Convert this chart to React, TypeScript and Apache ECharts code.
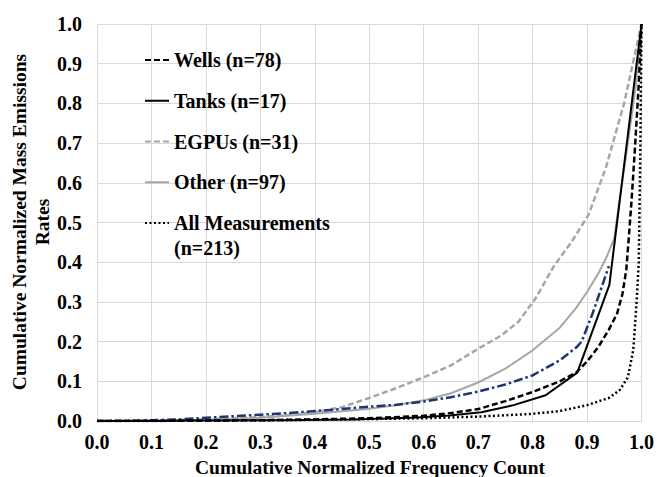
import React, { useEffect, useRef } from "react";
import * as echarts from "echarts";

const FONT = "'Liberation Serif', 'Times New Roman', serif";

const xTickLabels = ["0.0", "0.1", "0.2", "0.3", "0.4", "0.5", "0.6", "0.7", "0.8", "0.9", "1.0"];
const yTickLabels = ["0.0", "0.1", "0.2", "0.3", "0.4", "0.5", "0.6", "0.7", "0.8", "0.9", "1.0"];

const wellsX = [0, 0.1, 0.2, 0.3, 0.4, 0.5, 0.6, 0.65, 0.7, 0.75, 0.8, 0.85, 0.88, 0.9, 0.92, 0.94, 0.955, 0.965, 0.972, 0.976, 0.982, 0.989, 0.995, 1.0];
const wellsY = [0, 0, 0.001, 0.002, 0.004, 0.007, 0.013, 0.02, 0.03, 0.05, 0.073, 0.1, 0.122, 0.15, 0.185, 0.23, 0.27, 0.32, 0.38, 0.45, 0.56, 0.71, 0.85, 1.0];

const tanksX = [0, 0.059, 0.118, 0.176, 0.235, 0.294, 0.353, 0.412, 0.471, 0.529, 0.588, 0.647, 0.706, 0.765, 0.824, 0.882, 0.941, 1.0];
const tanksY = [0, 0, 0, 0.001, 0.001, 0.002, 0.002, 0.003, 0.004, 0.006, 0.009, 0.014, 0.022, 0.04, 0.065, 0.122, 0.343, 1.0];

const egpusX = [0, 0.1, 0.2, 0.3, 0.35, 0.4, 0.45, 0.5, 0.55, 0.6, 0.65, 0.7, 0.742, 0.774, 0.806, 0.839, 0.871, 0.903, 0.935, 0.968, 1.0];
const egpusY = [0, 0.001, 0.004, 0.01, 0.015, 0.022, 0.035, 0.058, 0.083, 0.11, 0.14, 0.182, 0.215, 0.25, 0.31, 0.39, 0.45, 0.52, 0.64, 0.8, 1.0];

const otherX = [0, 0.1, 0.2, 0.3, 0.4, 0.5, 0.55, 0.6, 0.65, 0.7, 0.75, 0.8, 0.85, 0.88, 0.9, 0.92, 0.935, 0.95, 0.96, 0.975, 0.99, 1.0];
const otherY = [0, 0.001, 0.003, 0.008, 0.018, 0.031, 0.04, 0.052, 0.07, 0.097, 0.132, 0.178, 0.235, 0.285, 0.325, 0.37, 0.41, 0.46, 0.56, 0.7, 0.85, 1.0];

const allX = [0, 0.1, 0.2, 0.3, 0.4, 0.5, 0.6, 0.7, 0.8, 0.85, 0.9, 0.94, 0.96, 0.975, 0.985, 0.991, 0.995, 0.998, 1.0];
const allY = [0, 0, 0.001, 0.002, 0.003, 0.005, 0.007, 0.011, 0.018, 0.025, 0.04, 0.058, 0.078, 0.11, 0.18, 0.3, 0.4, 0.7, 1.0];

const navyX = [0, 0.05, 0.1, 0.15, 0.2, 0.25, 0.3, 0.35, 0.4, 0.45, 0.5, 0.55, 0.6, 0.65, 0.7, 0.75, 0.8, 0.85, 0.88, 0.89, 0.91, 0.94];
const navyY = [0, 0, 0.002, 0.004, 0.008, 0.012, 0.016, 0.02, 0.025, 0.03, 0.036, 0.041, 0.049, 0.06, 0.074, 0.092, 0.115, 0.153, 0.185, 0.2, 0.27, 0.39];

const names = ["Wells (n=78)", "Tanks (n=17)", "EGPUs (n=31)", "Other (n=97)", "All Measurements\n(n=213)", "Combined"];

const zip = (xs: number[], ys: number[]) => xs.map((x, i) => [x, ys[i]]);

export default function App() {
  const ref = useRef<HTMLDivElement>(null);
  useEffect(() => {
    if (!ref.current) return;
    const chart = echarts.init(ref.current, null, { renderer: "svg" });
    const textBase = { fontFamily: FONT, fontWeight: "bold" as const, fontSize: 20, color: "#000" };
    const line = (name: string, xs: number[], ys: number[], color: string, type: any, width: number, z = 2) => ({
      name,
      type: "line",
      data: zip(xs, ys),
      symbol: "none",
      smooth: false,
      z,
      lineStyle: { color, type, width },
      itemStyle: { color },
    });
    chart.setOption({
      animation: false,
      backgroundColor: "#fff",
      grid: { left: 97, right: 14, top: 24, bottom: 56, containLabel: false },
      xAxis: {
        type: "value",
        min: 0,
        max: 1,
        interval: 0.1,
        axisLine: { show: true, lineStyle: { color: "#d9d9d9", width: 1 } },
        axisTick: { show: false },
        splitLine: { show: true, lineStyle: { color: "#d9d9d9", width: 1 } },
        axisLabel: {
          ...textBase,
          margin: 11,
          formatter: (v: number) => xTickLabels[Math.round(v * 10)],
        },
      },
      yAxis: {
        type: "value",
        min: 0,
        max: 1,
        interval: 0.1,
        axisLine: { show: true, lineStyle: { color: "#d9d9d9", width: 1 } },
        axisTick: { show: false },
        splitLine: { show: true, lineStyle: { color: "#d9d9d9", width: 1 } },
        axisLabel: {
          ...textBase,
          margin: 15,
          formatter: (v: number) => yTickLabels[Math.round(v * 10)],
        },
      },
      legend: [
        {
          data: names.slice(0, 4),
          orient: "vertical",
          left: 144,
          top: 50,
          padding: 0,
          itemWidth: 24,
          itemHeight: 12,
          itemGap: 20.75,
          selectedMode: false,
          itemStyle: { opacity: 0 },
          textStyle: { ...textBase, lineHeight: 20 },
        },
        {
          data: [names[4]],
          orient: "vertical",
          left: 144,
          top: 185.5,
          padding: 0,
          itemWidth: 24,
          itemHeight: 12,
          selectedMode: false,
          itemStyle: { opacity: 0 },
          formatter: (name: string) => "\u00a0\n" + name,
          textStyle: { ...textBase, lineHeight: 25 },
        },
      ],
      graphic: [
        {
          type: "text",
          x: 31,
          y: 222,
          rotation: Math.PI / 2,
          style: {
            text: "Cumulative Normalized Mass Emissions\nRates",
            font: `bold 19.5px ${FONT}`,
            fill: "#000",
            lineHeight: 23,
            align: "center",
            verticalAlign: "middle",
          },
        },
        {
          type: "text",
          x: 370,
          y: 467,
          style: {
            text: "Cumulative Normalized Frequency Count",
            font: `bold 19.5px ${FONT}`,
            fill: "#000",
            align: "center",
            verticalAlign: "middle",
          },
        },
      ],
      series: [
        line(names[3], otherX, otherY, "#a6a6a6", "solid", 2),
        line(names[2], egpusX, egpusY, "#a6a6a6", [6, 3], 2.5),
        line(names[5], navyX, navyY, "#1f3470", [9, 3, 2.5, 3], 2.5, 3),
        line(names[0], wellsX, wellsY, "#000", [6, 3], 2.5, 4),
        line(names[1], tanksX, tanksY, "#000", "solid", 2, 4),
        line(names[4], allX, allY, "#000", [2, 2.5], 2.5, 4),
      ],
    });
    return () => chart.dispose();
  }, []);
  return <div ref={ref} style={{ position: "fixed", left: 0, top: 0, width: 657, height: 477 }} />;
}
